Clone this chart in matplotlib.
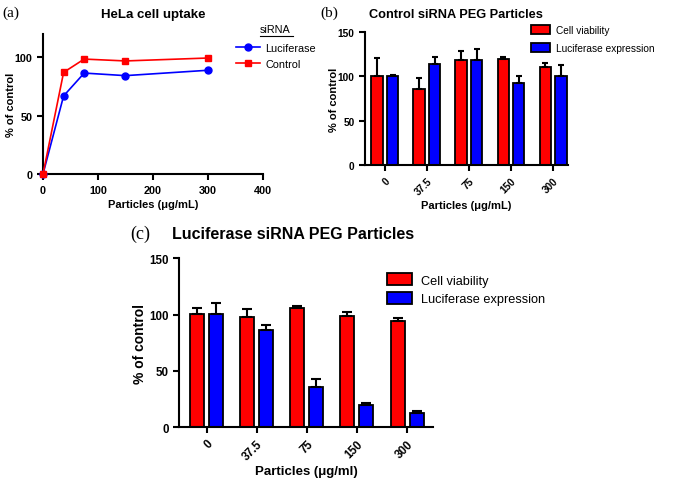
import numpy as np
import matplotlib
matplotlib.use('Agg')
import matplotlib.pyplot as plt
from matplotlib.lines import Line2D

plt.rcParams['font.family'] = ['Liberation Sans', 'DejaVu Sans']
plt.rcParams['axes.linewidth'] = 1.5

# Panel (a): HeLa cell uptake
uptake_conc = [0, 37.5, 75, 150, 300]
uptake_luciferase = [0, 67, 86.6, 84.4, 89]
uptake_control = [0, 87.2, 98.6, 97, 99.5]

# Panels (b), (c)
groups = ['0', '37.5', '75', '150', '300']
ctrl_viability = [100.5, 86, 118, 119, 111]
ctrl_viability_err = [20.5, 12.6, 10, 3, 4]
ctrl_expression = [100.5, 114.4, 118.5, 92, 100]
ctrl_expression_err = [1.5, 7, 12.5, 8.5, 13]

luc_viability = [100.4, 98, 105.4, 98.3, 93.9]
luc_viability_err = [5.6, 7, 2.6, 4.2, 2.9]
luc_expression = [100.4, 86.4, 36, 19.6, 12.8]
luc_expression_err = [9.6, 3.9, 6.5, 1.4, 1.2]

RED = '#ff0000'
BLUE = '#0000ff'

fig = plt.figure(figsize=(6.74, 4.81), dpi=100)


def style_axes(ax, tick_size):
    for side in ['top', 'right']:
        ax.spines[side].set_visible(False)
    ax.tick_params(direction='out', width=1.5, length=4, labelsize=tick_size)
    for lab in ax.get_xticklabels() + ax.get_yticklabels():
        lab.set_fontweight('bold')


# ---------- (a) ----------
ax_a = fig.add_axes([0.0638, 0.636, 0.326, 0.291])
ax_a.plot(uptake_conc, uptake_luciferase, color=BLUE, marker='o', markersize=5,
          linewidth=1.2, label='Luciferase', clip_on=False, zorder=3)
ax_a.plot(uptake_conc, uptake_control, color=RED, marker='s', markersize=5,
          linewidth=1.2, label='Control', clip_on=False, zorder=4)
ax_a.set_xlim(0, 400)
ax_a.set_ylim(0, 120)
ax_a.set_xticks([0, 100, 200, 300, 400])
ax_a.set_yticks([0, 50, 100])
style_axes(ax_a, 7.8)
ax_a.set_title('HeLa cell uptake', fontsize=9.5, fontweight='bold', pad=12)
ax_a.set_xlabel('Particles (μg/mL)', fontsize=8, fontweight='bold', labelpad=3)
ax_a.set_ylabel('% of control', fontsize=8, fontweight='bold')
ax_a.yaxis.set_label_coords(-0.125, 0.5)
ax_a.legend(loc='upper left', bbox_to_anchor=(0.86, 0.97), frameon=False,
            fontsize=7.8, handlelength=2.2, borderaxespad=0, labelspacing=0.6,
            handletextpad=0.5)
fig.text(0.386, 0.937, 'siRNA', fontsize=7.8, ha='left', va='center')
fig.add_artist(Line2D([0.386, 0.434], [0.923, 0.923], color='black', linewidth=0.8))
fig.text(0.004, 0.972, '(a)', fontsize=11, family='Liberation Serif', va='center')


def bar_panel(ax, viab, viab_err, expr, expr_err, width, offset, xlim, cap):
    x = np.arange(len(groups))
    ekw = dict(ecolor='black', elinewidth=1.5, capsize=cap, capthick=1.5)
    ax.bar(x - offset, viab, width, color=RED, edgecolor='black', linewidth=1.3,
           yerr=[np.zeros(len(x)), viab_err], error_kw=ekw, label='Cell viability')
    ax.bar(x + offset, expr, width, color=BLUE, edgecolor='black', linewidth=1.3,
           yerr=[np.zeros(len(x)), expr_err], error_kw=ekw, label='Luciferase expression')
    ax.set_xlim(*xlim)
    ax.set_ylim(0, 150)
    ax.set_yticks([0, 50, 100, 150])
    ax.set_xticks(x)
    ax.set_xticklabels(groups, rotation=45, ha='right', rotation_mode='anchor')


# ---------- (b) ----------
ax_b = fig.add_axes([0.5415, 0.655, 0.301, 0.2765])
bar_panel(ax_b, ctrl_viability, ctrl_viability_err, ctrl_expression,
          ctrl_expression_err, 0.27, 0.185, (-0.47, 4.35), 2.5)
style_axes(ax_b, 7.3)
ax_b.set_title('Control siRNA PEG Particles', fontsize=9.2, fontweight='bold',
               pad=11, x=0.45)
ax_b.set_xlabel('Particles (μg/mL)', fontsize=8, fontweight='bold', labelpad=3)
ax_b.set_ylabel('% of control', fontsize=8, fontweight='bold')
ax_b.yaxis.set_label_coords(-0.13, 0.5)
ax_b.legend(loc='upper left', bbox_to_anchor=(0.8, 1.08), frameon=False,
            fontsize=7.3, handlelength=1.8, handleheight=1.0, borderaxespad=0,
            labelspacing=0.75, handletextpad=0.6)
fig.text(0.475, 0.972, '(b)', fontsize=11, family='Liberation Serif', va='center')

# ---------- (c) ----------
ax_c = fig.add_axes([0.2656, 0.110, 0.377, 0.351])
bar_panel(ax_c, luc_viability, luc_viability_err, luc_expression,
          luc_expression_err, 0.28, 0.19, (-0.55, 4.52), 3.5)
style_axes(ax_c, 8.3)
ax_c.set_xlabel('Particles (μg/ml)', fontsize=9.5, fontweight='bold')
ax_c.xaxis.set_label_coords(0.5, -0.225)
ax_c.set_ylabel('% of control', fontsize=10, fontweight='bold')
ax_c.yaxis.set_label_coords(-0.125, 0.5)
ax_c.legend(loc='upper left', bbox_to_anchor=(0.8, 0.94), frameon=False,
            fontsize=9.2, handlelength=1.9, handleheight=1.0, borderaxespad=0,
            labelspacing=0.45, handletextpad=0.7)
fig.text(0.255, 0.513, 'Luciferase siRNA PEG Particles', fontsize=11.5,
         fontweight='bold', va='center')
fig.text(0.193, 0.513, '(c)', fontsize=13, family='Liberation Serif', va='center')

fig.savefig('out.png', dpi=100)
